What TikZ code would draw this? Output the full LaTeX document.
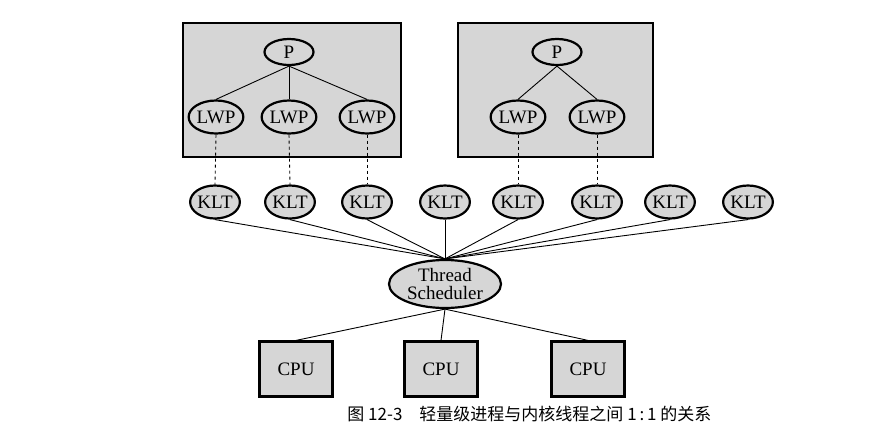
\documentclass[tikz,border=0pt]{standalone}
\usepackage{fontspec}
\setmainfont{Liberation Serif}
\newfontfamily\cjk{Noto Sans CJK SC}
\usetikzlibrary{shapes.geometric, positioning}
\definecolor{shade}{RGB}{214,214,214}

\begin{document}
\begin{tikzpicture}[x=1pt, y=-1pt, line width=2.2pt,
    oval/.style={ellipse, draw, fill=shade, inner sep=0pt, minimum width=49pt, minimum height=33pt, font=\fontsize{19}{19}\selectfont},
    unit/.style={rectangle, draw, fill=shade, minimum width=73pt, minimum height=55pt, font=\fontsize{19}{19}\selectfont},
    link/.style={line width=0.9pt},
    dlink/.style={line width=0.9pt, dashed}]
    \useasboundingbox (0,0) rectangle (884,445);

    % processes
    \draw[fill=shade] (183,23) rectangle (401,157);
    \draw[fill=shade] (458,23) rectangle (653,157);
    \node[oval, minimum height=26pt] (P1) at (289,52) {P};
    \node[oval, minimum height=26pt] (P2) at (557,52) {P};
    \node[oval] (L1) at (216,117) {LWP};
    \node[oval] (L2) at (289,117) {LWP};
    \node[oval] (L3) at (367,117) {LWP};
    \node[oval] (L4) at (518,117) {LWP};
    \node[oval] (L5) at (597,117) {LWP};
    \foreach \l in {L1,L2,L3} \draw[link] (P1.south) -- (\l.north);
    \foreach \l in {L4,L5} \draw[link] (P2.south) -- (\l.north);

    % kernel threads
    \foreach \x [count=\i] in {215,290,367,445,518,597,670,748}
        \node[oval] (K\i) at (\x,202) {KLT};
    \draw[dlink] (L1.south) -- (K1.north);
    \draw[dlink] (L2.south) -- (K2.north);
    \draw[dlink] (L3.south) -- (K3.north);
    \draw[dlink] (L4.south) -- (K5.north);
    \draw[dlink] (L5.south) -- (K6.north);

    \node[oval, minimum width=112pt, minimum height=48pt, align=center, font=\fontsize{19}{18}\selectfont] (TS) at (445,284) {Thread\\Scheduler};
    \foreach \i in {1,...,8} \draw[link] (K\i.south) -- (TS.north);

    % cpus
    \node[unit] (C1) at (296,369) {CPU};
    \node[unit] (C2) at (441,369) {CPU};
    \node[unit] (C3) at (588,369) {CPU};
    \foreach \c in {C1,C2,C3} \draw[link] (TS.south) -- (\c.north);

    \node[font=\cjk\fontsize{17}{18}\selectfont, anchor=west] (cap) at (343,414) {图 12-3\quad 轻量级进程与内核线程之间 1\,:\,1 的关系};
\end{tikzpicture}
\end{document}
